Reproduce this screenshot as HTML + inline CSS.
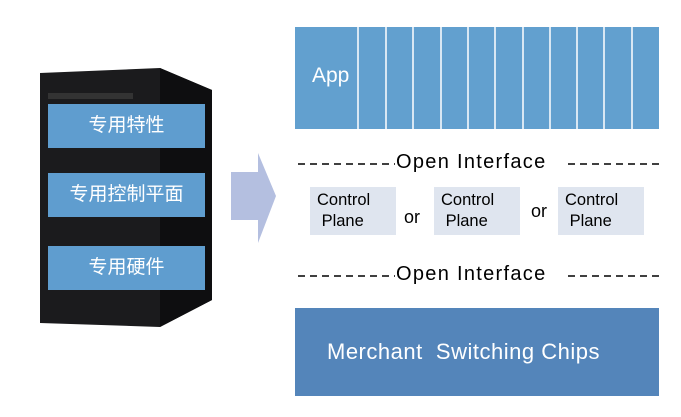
<!DOCTYPE html>
<html><head><meta charset="utf-8"><style>
body{margin:0;width:681px;height:417px;background:#fff;position:relative;overflow:hidden;font-family:"Liberation Sans","Noto Sans CJK SC",sans-serif}
.a{position:absolute}
.lab{position:absolute;background:#5f9dcf;color:#fff;font-size:19px;text-align:center;left:48px;width:157px;height:44px;line-height:44px}
.cp{position:absolute;background:#dfe5ef;font-size:16.5px;line-height:21px;width:86px;height:48px;top:187px;padding-left:7px;box-sizing:border-box;padding-top:3px}
.oi{position:absolute;left:295px;width:368px;font-size:20px;letter-spacing:1.3px;white-space:nowrap}
</style></head><body>
<svg class="a" style="left:0;top:0" width="681" height="417">
<polygon points="40,73 160,68 212,90 212,300 160,327 40,323" fill="#1b1b1d"/>
<polygon points="160,68 212,90 212,300 160,327" fill="#0e0e10"/>
<rect x="48" y="93" width="85" height="6" fill="#333"/>
<polygon points="231,172 258,172 258,153 276,196 258,243 258,220 231,220" fill="#b4bfe0"/>
<rect x="295" y="27" width="364" height="102" fill="#62a0cf"/>
<g stroke="#fff" stroke-width="1.5">
<line x1="358" y1="27" x2="358" y2="129"/><line x1="386" y1="27" x2="386" y2="129"/><line x1="413" y1="27" x2="413" y2="129"/><line x1="441" y1="27" x2="441" y2="129"/><line x1="468" y1="27" x2="468" y2="129"/><line x1="495" y1="27" x2="495" y2="129"/><line x1="523" y1="27" x2="523" y2="129"/><line x1="550" y1="27" x2="550" y2="129"/><line x1="577" y1="27" x2="577" y2="129"/><line x1="604" y1="27" x2="604" y2="129"/><line x1="632" y1="27" x2="632" y2="129"/>
</g>
<g stroke="#000" stroke-width="1.5" stroke-dasharray="7,5">
<line x1="298" y1="164" x2="395" y2="164"/><line x1="568" y1="164" x2="662" y2="164"/>
<line x1="298" y1="276" x2="395" y2="276"/><line x1="568" y1="276" x2="662" y2="276"/>
</g>
<rect x="295" y="308" width="364" height="88" fill="#5485ba"/>
</svg>
<div class="lab" style="top:104px">专用特性</div>
<div class="lab" style="top:173px">专用控制平面</div>
<div class="lab" style="top:246px">专用硬件</div>
<div class="a" style="left:312px;top:64px;color:#fff;font-size:21px">App</div>
<div class="oi" style="top:151px;left:396px">Open Interface</div>
<div class="oi" style="top:263px;left:396px">Open Interface</div>
<div class="cp" style="left:310px">Control<br>&nbsp;Plane</div>
<div class="cp" style="left:434px">Control<br>&nbsp;Plane</div>
<div class="cp" style="left:558px">Control<br>&nbsp;Plane</div>
<div class="a" style="left:404px;top:207px;font-size:18px">or</div>
<div class="a" style="left:531px;top:201px;font-size:18px">or</div>
<div class="a" style="left:327px;top:339px;color:#fff;font-size:22px;letter-spacing:0.5px;white-space:pre">Merchant  Switching Chips</div>
</body></html>
